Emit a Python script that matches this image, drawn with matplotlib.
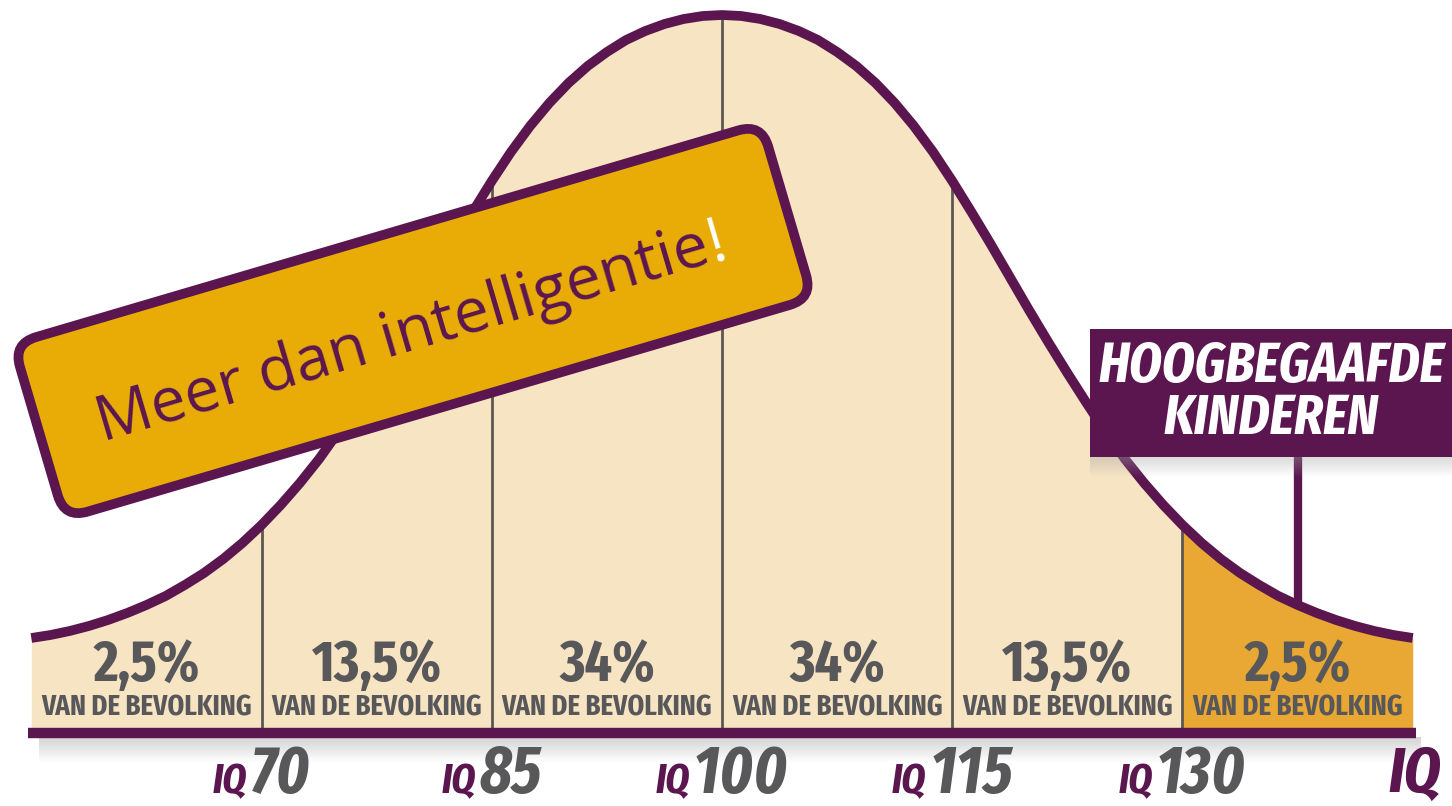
import os
import numpy as np
import matplotlib
matplotlib.use("Agg")
import matplotlib.pyplot as plt
from matplotlib import font_manager
from matplotlib.patches import FancyBboxPatch, Rectangle
from matplotlib.transforms import Affine2D
from matplotlib.offsetbox import TextArea, HPacker, AnnotationBbox

# bell curve (height above the base line)
iq = [55, 56.25, 57.5, 58.75, 60, 61.25, 62.5, 63.75, 65, 66.25, 67.5, 68.75,
      70, 71.25, 72.5, 73.75, 75, 76.25, 77.5, 78.75, 80, 81.25, 82.5, 83.75,
      85, 86.25, 87.5, 88.75, 90, 91.25, 92.5, 93.75, 95, 96.25, 97.5, 98.75,
      100, 101.25, 102.5, 103.75, 105, 106.25, 107.5, 108.75, 110, 111.25,
      112.5, 113.75, 115, 116.25, 117.5, 118.75, 120, 121.25, 122.5, 123.75,
      125, 126.25, 127.5, 128.75, 130, 131.25, 132.5, 133.75, 135, 136.25,
      137.5, 138.75, 140, 141.25, 142.5, 143.75, 145]
height = [95, 98, 102, 107, 113, 120, 128, 137, 148, 160, 174, 190,
          208, 228, 250, 274, 301, 330, 360, 391, 423, 456, 489, 521,
          552, 581, 607, 630, 650, 667, 681, 693, 702, 709, 714, 717,
          718, 717, 714, 709, 702, 693, 681, 667, 650, 630,
          607, 581, 552, 521, 489, 456, 423, 391, 360, 330,
          301, 274, 250, 228, 208, 190, 174, 160, 148, 137,
          128, 120, 113, 107, 102, 98, 95]

bounds = [55, 70, 85, 100, 115, 130, 145]
shares = ["2,5%", "13,5%", "34%", "34%", "13,5%", "2,5%"]
iq_ticks = [70, 85, 100, 115, 130]
gifted_iq = 137.5

purple = "#5B1650"
cream = "#F7E4C3"
tail = "#E9A833"
gold = "#E9AC06"
grey = "#58585A"
sep_col = "#5C5752"


def pick(bold, italic):
    # look for a condensed face, the labels use a narrow font
    best, score = None, -1
    for f in font_manager.fontManager.ttflist:
        key = (f.name + " " + os.path.basename(f.fname)).lower()
        s = 0
        if "narrow" in key or "condensed" in key or "cond" in key:
            s += 10
        if "extracondensed" in key or "extra condensed" in key:
            s += 2
        w = f.weight if isinstance(f.weight, int) else font_manager.weight_dict.get(f.weight, 400)
        if bold and 600 <= w < 800:
            s += 4
        if not bold and 350 < w < 600:
            s += 4
        if italic == (f.style in ("italic", "oblique")):
            s += 3
        if s > score:
            best, score = f.fname, s
    return best, score


f_bold, sc1 = pick(True, False)
f_bi, sc2 = pick(True, True)
sz = 1.0 if sc1 >= 10 else 0.8
bold_fp = font_manager.FontProperties(fname=f_bold)
bi_fp = font_manager.FontProperties(fname=f_bi)
plain = ["Open Sans", "DejaVu Sans"]

fig = plt.figure(figsize=(14.52, 8.06), dpi=100)
ax = fig.add_axes([0, 0, 1, 1])
ax.set_xlim(52.96, 147.56)
ax.set_ylim(-73, 733)
ax.axis("off")

x = np.array(iq)
y = np.array(height)
k = iq.index(130)
ax.fill_between(x[:k + 1], 0, y[:k + 1], color=cream, lw=0, zorder=1)
ax.fill_between(x[k:], 0, y[k:], color=tail, lw=0, zorder=1)

# soft shadow under the base line
grad = np.zeros((40, 2, 4))
grad[..., :3] = 0.62
grad[..., 3] = np.linspace(0.45, 0.0, 40)[:, None]
ax.imshow(grad, extent=[55.5, 145.5, -30, -4], aspect="auto", zorder=0,
          interpolation="bilinear")

for t in iq_ticks:
    ax.vlines(t, 0, y[iq.index(t)], color=sep_col, lw=2.0, zorder=2)

ax.plot(x, y, color=purple, lw=7, solid_capstyle="butt",
        solid_joinstyle="round", zorder=4)
ax.hlines(0, 54.8, 145.2, color=purple, lw=7.5, zorder=4)

for i, s in enumerate(shares):
    c = (bounds[i] + bounds[i + 1]) / 2
    ax.text(c, 67, s, ha="center", va="center", fontsize=42 * sz, color=grey,
            fontproperties=bold_fp)
    ax.text(c, 25, "VAN DE BEVOLKING", ha="center", va="center",
            fontsize=21 * sz, color=grey, fontproperties=bold_fp)

for t in iq_ticks:
    lab = HPacker(children=[
        TextArea("IQ", textprops=dict(color=purple, fontsize=30 * sz,
                                      fontproperties=bi_fp)),
        TextArea(str(t), textprops=dict(color=grey, fontsize=48 * sz,
                                        fontproperties=bi_fp))],
        align="baseline", pad=0, sep=3)
    ab = AnnotationBbox(lab, (t, -42), frameon=False, box_alignment=(0.5, 0.5))
    ax.add_artist(ab)
ax.text(145.1, -42, "IQ", ha="center", va="center", fontsize=46 * sz,
        color=purple, fontproperties=bi_fp)

# connector to the gifted label
ax.vlines(gifted_iq, y[iq.index(gifted_iq)], 276, color=purple, lw=6, zorder=3)

# overlay in pixel units for the labels on top
ov = fig.add_axes([0, 0, 1, 1])
ov.set_xlim(0, 1452)
ov.set_ylim(806, 0)
ov.axis("off")
ov.patch.set_alpha(0)

sh = np.zeros((20, 2, 4))
sh[..., :3] = 0.65
sh[..., 3] = np.linspace(0.4, 0.0, 20)[:, None]
ov.imshow(sh, extent=[1090, 1452, 478, 457], aspect="auto", zorder=1,
          interpolation="bilinear")
ov.add_patch(Rectangle((1090, 329), 362, 128, facecolor=purple, lw=0, zorder=2))
ov.text(1271, 393, "HOOGBEGAAFDE\nKINDEREN", ha="center", va="center",
        fontsize=41 * sz, color="white", fontproperties=bi_fp,
        linespacing=0.92, zorder=3)

cx, cy, w, h = 413, 321, 780, 182
box = FancyBboxPatch((cx - w / 2, cy - h / 2), w, h,
                     boxstyle="round,pad=0,rounding_size=24",
                     facecolor=gold, edgecolor=purple, lw=7, zorder=5)
box.set_transform(Affine2D().rotate_deg_around(cx, cy, -16.4) + ov.transData)
ov.add_patch(box)
ov.text(713, 262, "Meer dan intelligentie", ha="right", va="baseline",
        rotation=16.4, rotation_mode="anchor", fontsize=45, color=purple,
        family=plain, zorder=6)
ov.text(713, 262, "!", ha="left", va="baseline", rotation=16.4,
        rotation_mode="anchor", fontsize=45, color="white", family=plain,
        zorder=6)

fig.savefig("out.png", dpi=100)
